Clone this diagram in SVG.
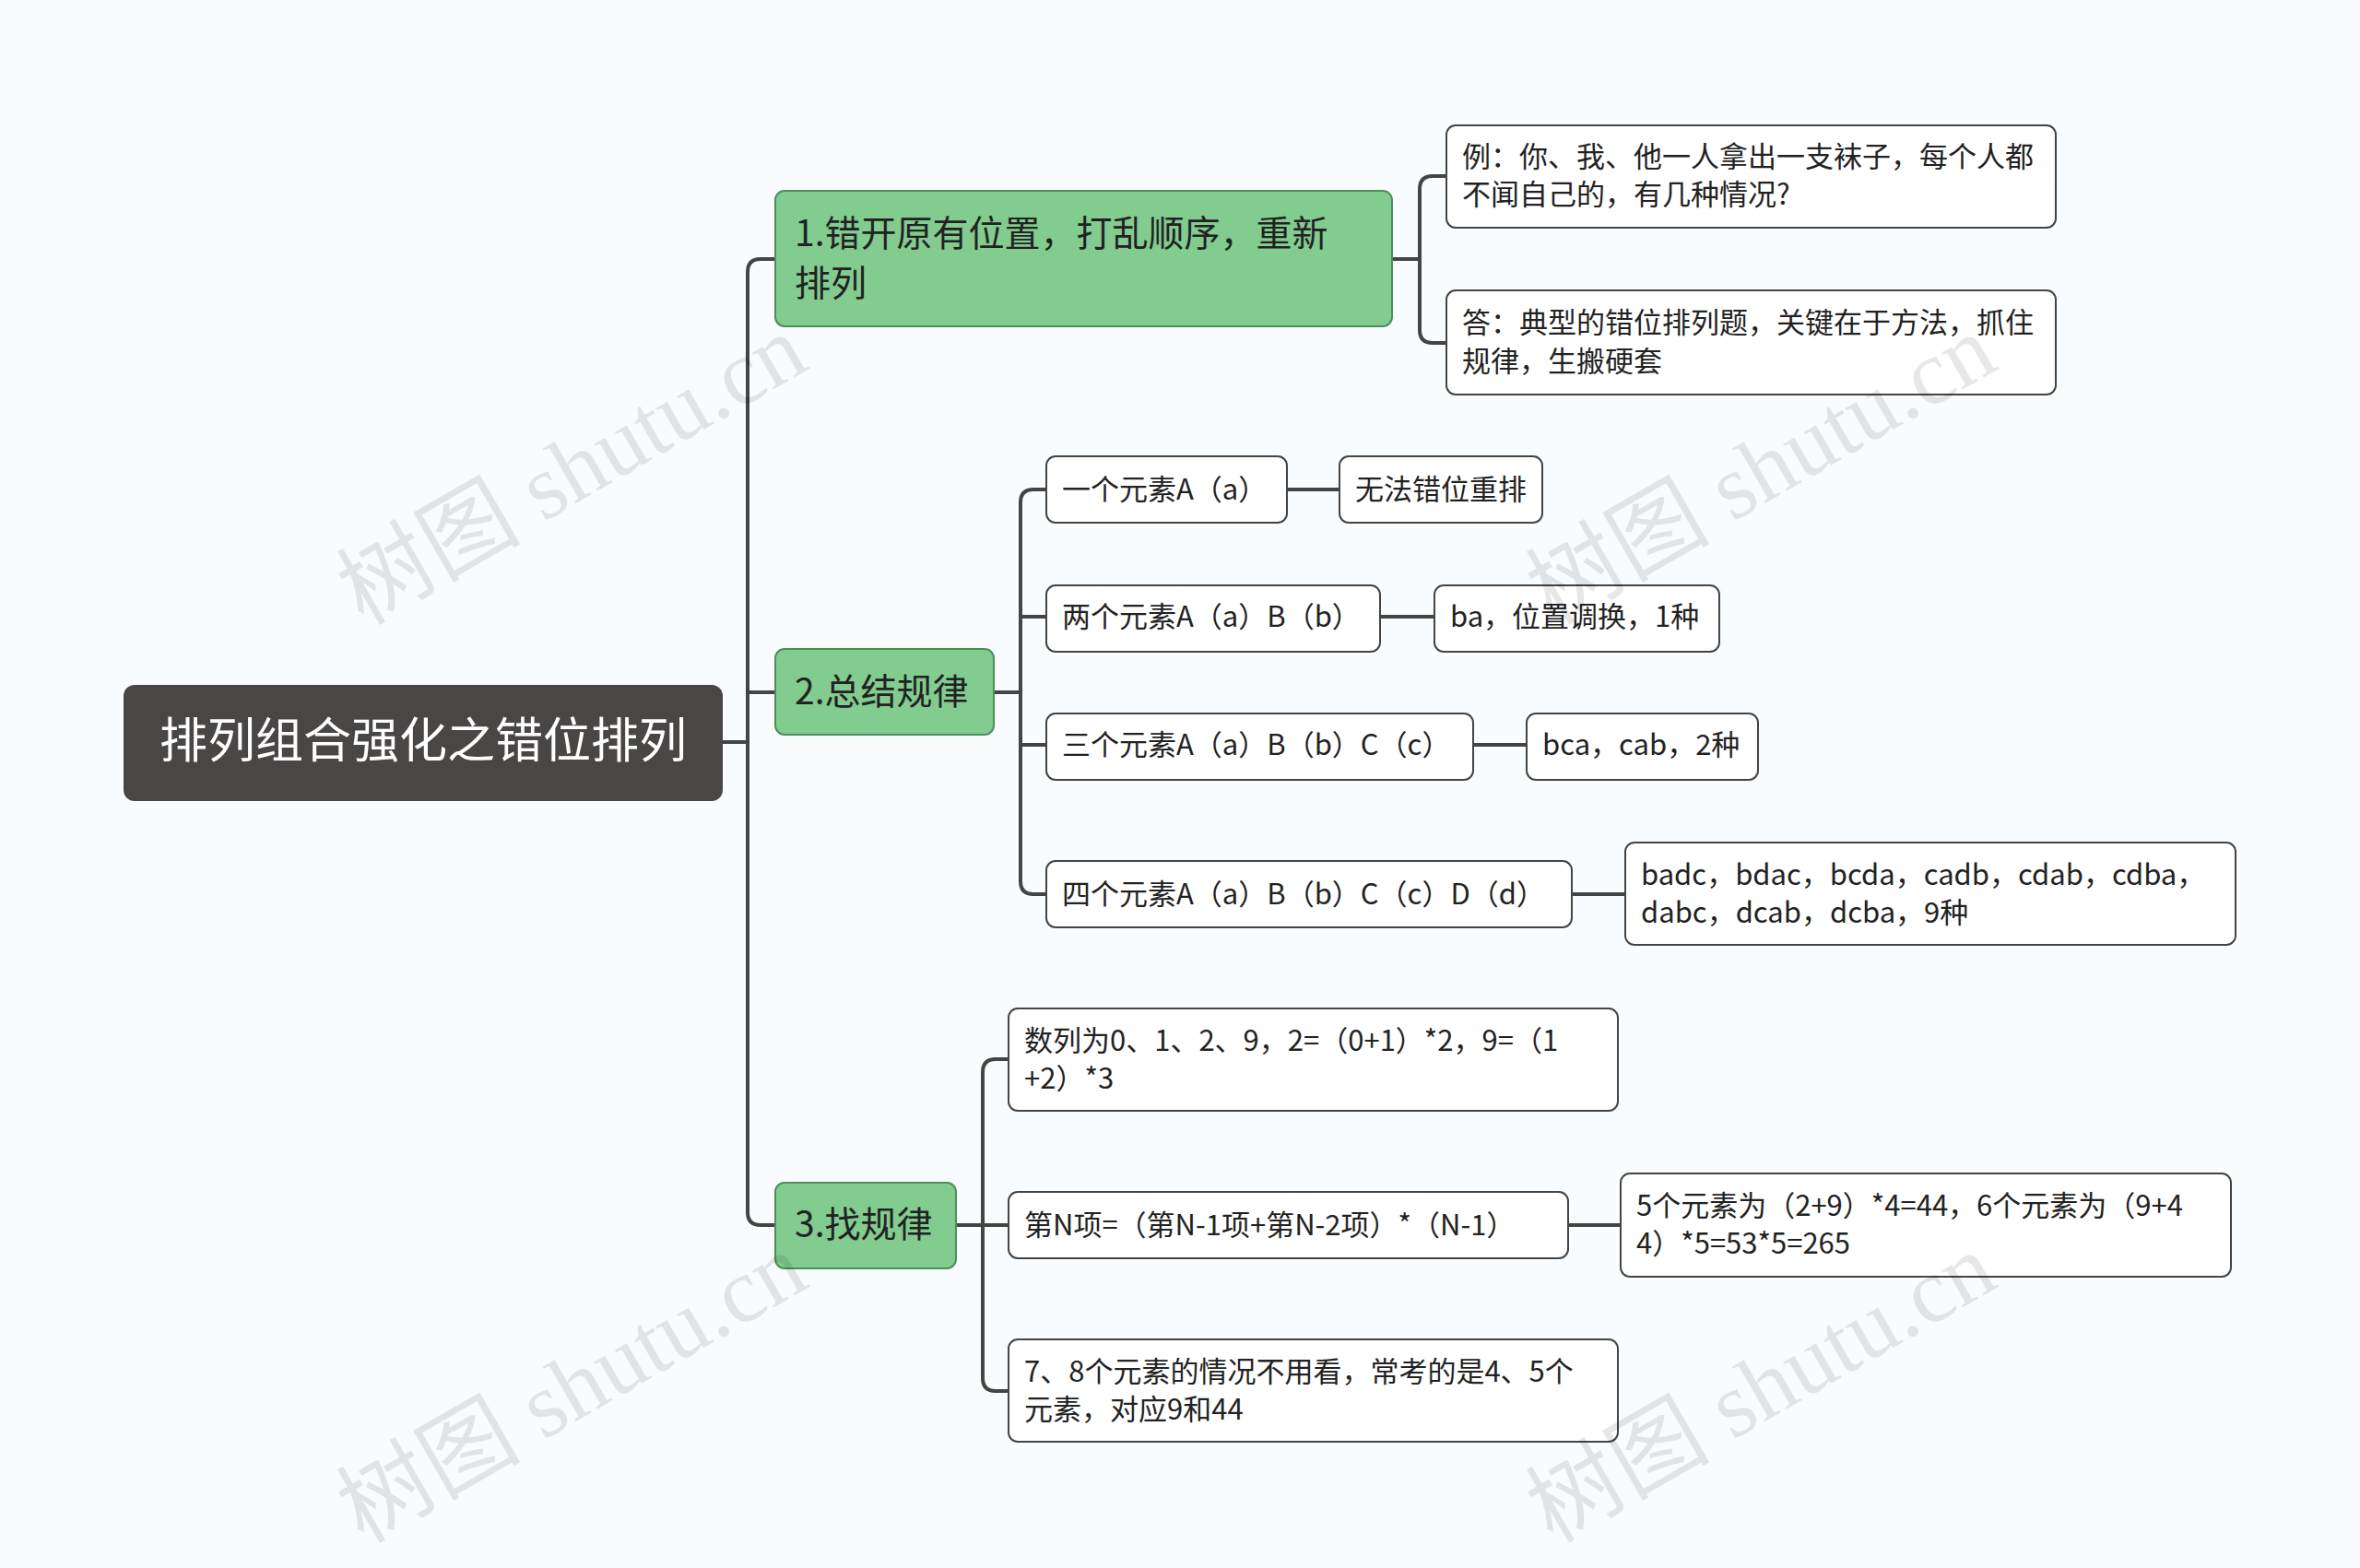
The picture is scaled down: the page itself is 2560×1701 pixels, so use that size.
<svg xmlns="http://www.w3.org/2000/svg" width="2560" height="1701" viewBox="0 0 2560 1701">
<style>
.c{fill:none;stroke:#444;stroke-width:4}
.g{fill:#82cc90;stroke:#4c8f5a;stroke-width:2}
.w{fill:#fff;stroke:#444;stroke-width:2}
.t{font-family:"Noto Sans CJK SC","Noto Sans",sans-serif;fill:#222}
.gt{font-size:39px}
.lt{font-size:31px}
.wm{font-family:"Liberation Serif","Noto Sans CJK SC",serif;font-size:100px;fill:#000;opacity:0.09}
</style>
<rect width="2560" height="1701" fill="#f8fcfe"/>
<g id="connectors">
<path class="c" d="M784 805 H811 M811 295 Q811 281 825 281 H841 M811 295 V1315 Q811 1329 825 1329 H841 M811 751 H841"/>
<path class="c" d="M1510 281 H1540 M1540 205 Q1540 191 1554 191 H1569 M1540 205 V358 Q1540 372 1554 372 H1569"/>
<path class="c" d="M1078 751 H1107 M1107 545 Q1107 531 1121 531 H1135 M1107 545 V956 Q1107 970 1121 970 H1135 M1107 669 H1135 M1107 808 H1135"/>
<path class="c" d="M1037 1329 H1066 M1066 1163 Q1066 1149 1080 1149 H1094 M1066 1163 V1495 Q1066 1509 1080 1509 H1094 M1066 1329 H1094"/>
<path class="c" d="M1396 531 H1453 M1497 669 H1556 M1598 808 H1656 M1705 970 H1763 M1701 1329 H1758"/>
</g>
<g id="root"><rect x="134" y="743" width="650" height="126" rx="12" fill="#4a4646"/><text x="459" y="822" text-anchor="middle" class="t" font-size="52" fill="#fff" style="fill:#fff">排列组合强化之错位排列</text></g>
<g id="n1"><rect class="g" x="841" y="207" width="669" height="147" rx="10"/><text class="t gt" x="862" y="267">1.错开原有位置，打乱顺序，重新</text><text class="t gt" x="862" y="321">排列</text></g>
<g id="n2"><rect class="g" x="841" y="704" width="237" height="93" rx="10"/><text class="t gt" x="862" y="764">2.总结规律</text></g>
<g id="n3"><rect class="g" x="841" y="1283" width="196" height="93" rx="10"/><text class="t gt" x="862" y="1342">3.找规律</text></g>
<g id="l1a"><rect class="w" x="1569" y="136" width="661" height="111" rx="10"/><text class="t lt" x="1586" y="181">例：你、我、他一人拿出一支袜子，每个人都</text><text class="t lt" x="1586" y="222">不闻自己的，有几种情况?</text></g>
<g id="l1b"><rect class="w" x="1569" y="315" width="661" height="113" rx="10"/><text class="t lt" x="1586" y="361">答：典型的错位排列题，关键在于方法，抓住</text><text class="t lt" x="1586" y="403">规律，生搬硬套</text></g>
<g id="l2a"><rect class="w" x="1135" y="495" width="261" height="72" rx="10"/><text class="t lt" x="1152" y="542">一个元素A（a）</text></g>
<g id="l2a2"><rect class="w" x="1453" y="495" width="220" height="72" rx="10"/><text class="t lt" x="1470" y="542">无法错位重排</text></g>
<g id="l2b"><rect class="w" x="1135" y="635" width="362" height="72" rx="10"/><text class="t lt" x="1152" y="680">两个元素A（a）B（b）</text></g>
<g id="l2b2"><rect class="w" x="1556" y="635" width="309" height="72" rx="10"/><text class="t lt" x="1573" y="680">ba，位置调换，1种</text></g>
<g id="l2c"><rect class="w" x="1135" y="774" width="463" height="72" rx="10"/><text class="t lt" x="1152" y="819">三个元素A（a）B（b）C（c）</text></g>
<g id="l2c2"><rect class="w" x="1656" y="774" width="251" height="72" rx="10"/><text class="t lt" x="1673" y="819">bca，cab，2种</text></g>
<g id="l2d"><rect class="w" x="1135" y="934" width="570" height="72" rx="10"/><text class="t lt" x="1152" y="981">四个元素A（a）B（b）C（c）D（d）</text></g>
<g id="l2d2"><rect class="w" x="1763" y="914" width="662" height="111" rx="10"/><text class="t lt" x="1780" y="960">badc，bdac，bcda，cadb，cdab，cdba，</text><text class="t lt" x="1780" y="1001">dabc，dcab，dcba，9种</text></g>
<g id="l3a"><rect class="w" x="1094" y="1094" width="661" height="111" rx="10"/><text class="t lt" x="1111" y="1140">数列为0、1、2、9，2=（0+1）*2，9=（1</text><text class="t lt" x="1111" y="1181">+2）*3</text></g>
<g id="l3b"><rect class="w" x="1094" y="1293" width="607" height="72" rx="10"/><text class="t lt" x="1111" y="1340">第N项=（第N-1项+第N-2项）*（N-1）</text></g>
<g id="l3b2"><rect class="w" x="1758" y="1273" width="662" height="112" rx="10"/><text class="t lt" x="1775" y="1319">5个元素为（2+9）*4=44，6个元素为（9+4</text><text class="t lt" x="1775" y="1360">4）*5=53*5=265</text></g>
<g id="l3c"><rect class="w" x="1094" y="1453" width="661" height="111" rx="10"/><text class="t lt" x="1111" y="1499">7、8个元素的情况不用看，常考的是4、5个</text><text class="t lt" x="1111" y="1540">元素，对应9和44</text></g>
<g id="watermarks">
<text class="wm" x="637" y="539" text-anchor="middle" transform="rotate(-30 637 539)">树图 shutu.cn</text>
<text class="wm" x="1927" y="539" text-anchor="middle" transform="rotate(-30 1927 539)">树图 shutu.cn</text>
<text class="wm" x="637" y="1535" text-anchor="middle" transform="rotate(-30 637 1535)">树图 shutu.cn</text>
<text class="wm" x="1927" y="1535" text-anchor="middle" transform="rotate(-30 1927 1535)">树图 shutu.cn</text>
</g>
</svg>
